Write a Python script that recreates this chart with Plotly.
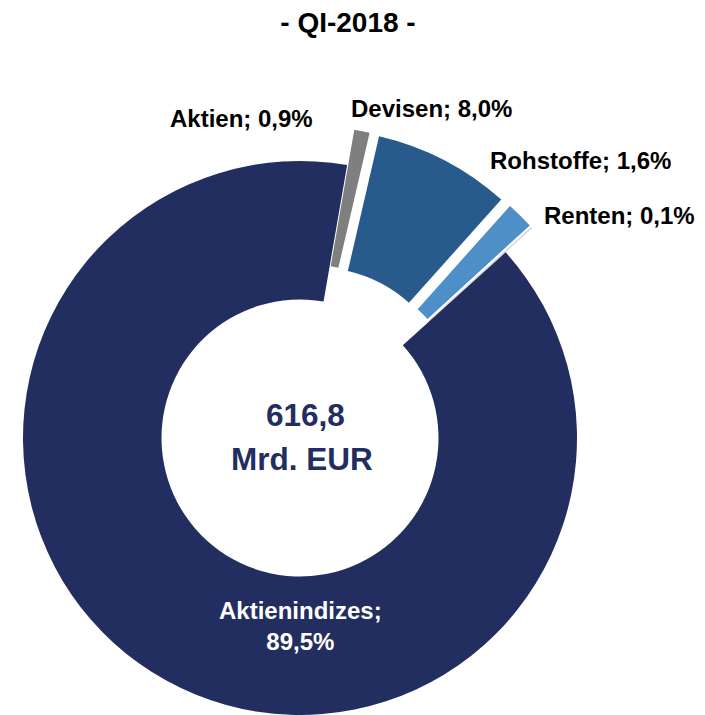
import math
import plotly.graph_objects as go

# ---- data ----
labels = ["Aktien", "Devisen", "Rohstoffe", "Renten", "Aktienindizes"]
values = [0.9, 8.0, 1.6, 0.1, 89.5]
value_text = ["0,9%", "8,0%", "1,6%", "0,1%", "89,5%"]
pulled = [True, True, True, True, False]
center_lines = ["616,8", "Mrd. EUR"]
chart_title = "- QI-2018 -"

# ---- styling ----
colors = ["#7f7f7f", "#285b8c", "#4d8fc6", "#d9d9d9", "#222e5f"]
OFF = 8                       # page body margin of the html page
W, H = 705 - OFF, 715 - OFF
CX, CY, R = 300 - OFF, 438 - OFF, 277   # pie centre / radius in pixels
ROT = 9.8                     # start angle of first slice (deg, clockwise from 12 o'clock)
PULL = 0.13                   # pull-out fraction of radius
HOLE = 0.5
FONT = "Liberation Sans, Arial, sans-serif"

total = sum(values)
fig = go.Figure()

angle = ROT
for i, v in enumerate(values):
    span = v / total * 360.0
    mid = math.radians(angle + span / 2)
    angle += span
    d = PULL * R if pulled[i] else 0.0
    cx = CX + d * math.sin(mid)
    cy = CY - d * math.cos(mid)
    dom_x = [max(0.0, (cx - R) / W), min(1.0, (cx + R) / W)]
    dom_y = [max(0.0, 1 - (cy + R) / H), min(1.0, 1 - (cy - R) / H)]
    cols = ["rgba(0,0,0,0)"] * len(values)
    cols[i] = colors[i]
    fig.add_trace(go.Pie(
        labels=labels, values=values, sort=False, direction="clockwise",
        rotation=ROT, hole=HOLE, domain=dict(x=dom_x, y=dom_y),
        marker=dict(colors=cols, line=dict(width=0)),
        textinfo="none", hoverinfo="skip", showlegend=False,
    ))

# slice labels (screen pixel positions)
label_pos = {
    "Aktien": (315, 118, "right"),
    "Devisen": (431, 108, "center"),
    "Rohstoffe": (580, 160, "center"),
    "Renten": (619, 215, "center"),
    "Aktienindizes": (300, 626, "center"),
}
annotations = []
for lab, vt in zip(labels, value_text):
    x, y, xa = label_pos[lab]
    inside = lab == "Aktienindizes"
    txt = f"{lab};<br>{vt}" if inside else f"{lab}; {vt}"
    annotations.append(dict(
        x=(x - OFF) / W, y=1 - (y - OFF) / H, xref="paper", yref="paper",
        xanchor=xa, yanchor="middle", text=txt, showarrow=False,
        font=dict(family=FONT, size=24, color="white" if inside else "black", weight="bold"),
    ))

# centre text
for txt, (x, y) in zip(center_lines, [(305, 415), (302, 459)]):
    annotations.append(dict(
        x=(x - OFF) / W, y=1 - (y - OFF) / H, xref="paper", yref="paper",
        xanchor="center", yanchor="middle", text=txt, showarrow=False,
        font=dict(family=FONT, size=31.5, color="#222e5f", weight="bold"),
    ))

fig.update_layout(
    width=W, height=H, margin=dict(l=0, r=0, t=0, b=0),
    paper_bgcolor="white", plot_bgcolor="white",
    title=dict(text=chart_title, x=(348 - OFF) / W, xanchor="center",
               y=1 - (22 - OFF) / H, yanchor="middle", yref="container",
               font=dict(family=FONT, size=28, color="black", weight="bold")),
    annotations=annotations,
)

fig.write_html("out.html")
